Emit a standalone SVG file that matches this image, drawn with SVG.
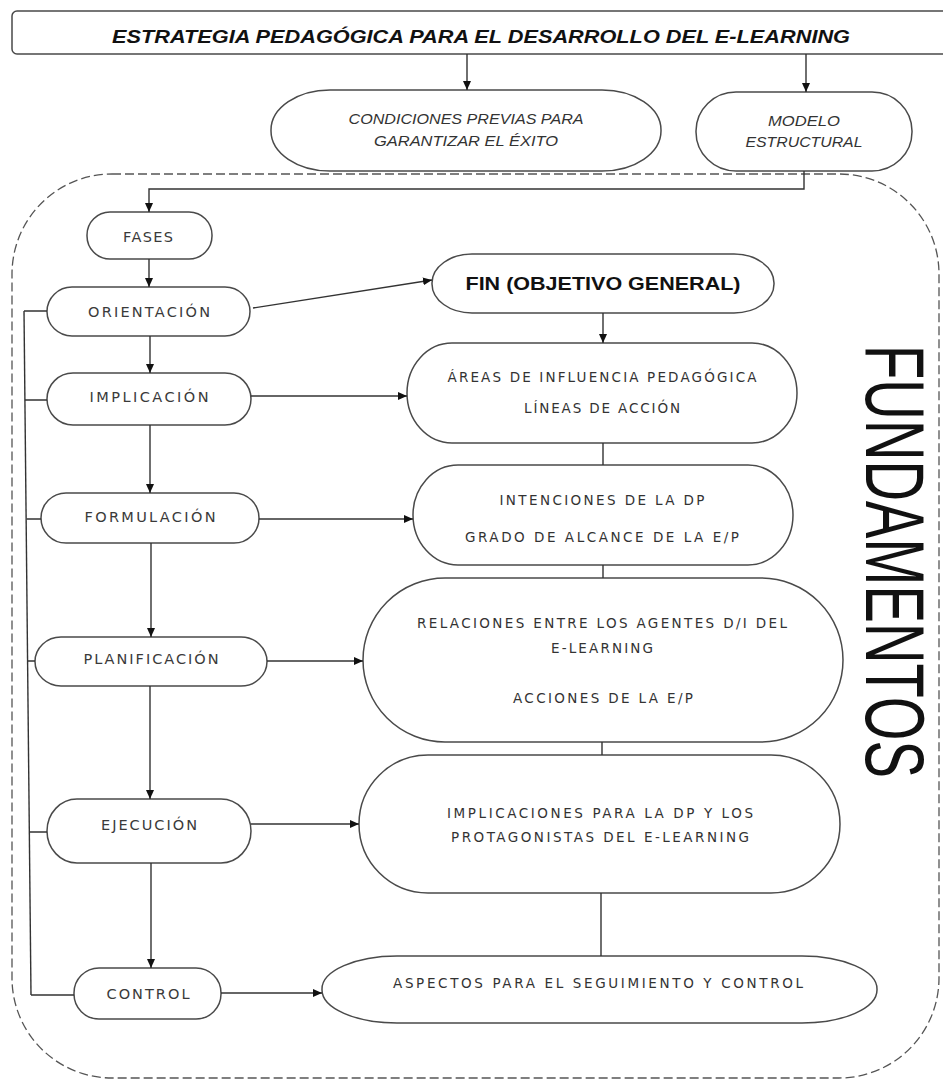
<svg xmlns="http://www.w3.org/2000/svg" width="943" height="1080" viewBox="0 0 943 1080">
<defs>
<marker id="ah" markerUnits="userSpaceOnUse" markerWidth="10" markerHeight="10" refX="9" refY="4" orient="auto">
<path d="M0,0 L9,4 L0,8 z" fill="#111"/>
</marker>
<style>
.box{fill:#fff;stroke:#4a4a4a;stroke-width:1.5}
.ln{fill:none;stroke:#333;stroke-width:1.4}
.arr{fill:none;stroke:#333;stroke-width:1.4;marker-end:url(#ah)}
.lbl{font-family:"DejaVu Sans","Liberation Sans",sans-serif;font-size:14.5px;fill:#3a3a3a;text-anchor:middle}
.rt{font-family:"DejaVu Sans","Liberation Sans",sans-serif;font-size:13.5px;fill:#333;text-anchor:middle}
.it{font-family:"Liberation Sans",Arial,sans-serif;font-style:italic;font-size:15px;fill:#333;text-anchor:middle}
</style>
</defs>
<rect width="943" height="1080" fill="#fff"/>

<path d="M112,174 H839 A100,100 0 0 1 939,274 V978 A100,100 0 0 1 839,1078 H112 A100,100 0 0 1 12,978 V274 A100,100 0 0 1 112,174 Z" fill="none" stroke="#555" stroke-width="1.3" stroke-dasharray="9 4"/>

<g id="title">
<rect class="box" x="12" y="11" width="945" height="43" rx="5"/>
<text x="481" y="43" font-family="'Liberation Sans',Arial,sans-serif" font-weight="bold" font-style="italic" font-size="18" fill="#111" text-anchor="middle" textLength="738" lengthAdjust="spacingAndGlyphs">ESTRATEGIA PEDAGÓGICA PARA EL DESARROLLO DEL E-LEARNING</text>
</g>

<g id="condiciones">
<rect class="box" x="271" y="90" width="390" height="81" rx="59" ry="40"/>
<text class="it" x="466" y="124" textLength="235" lengthAdjust="spacingAndGlyphs">CONDICIONES PREVIAS PARA</text>
<text class="it" x="466" y="146" textLength="184" lengthAdjust="spacingAndGlyphs">GARANTIZAR EL ÉXITO</text>
</g>

<g id="modelo">
<rect class="box" x="696" y="92" width="216" height="79" rx="40" ry="39"/>
<text class="it" x="804" y="126" textLength="72" lengthAdjust="spacingAndGlyphs">MODELO</text>
<text class="it" x="804" y="147" textLength="117" lengthAdjust="spacingAndGlyphs">ESTRUCTURAL</text>
</g>

<g id="fases">
<rect class="box" x="87" y="212" width="125" height="47" rx="23"/>
<text class="lbl" x="148" y="242" textLength="50" lengthAdjust="spacing">FASES</text>
</g>

<g id="orientacion">
<rect class="box" x="47" y="287" width="203" height="49" rx="25"/>
<text class="lbl" x="149" y="317" textLength="122" lengthAdjust="spacing">ORIENTACIÓN</text>
</g>

<g id="implicacion">
<rect class="box" x="47" y="373" width="204" height="52" rx="26"/>
<text class="lbl" x="149" y="402" textLength="119" lengthAdjust="spacing">IMPLICACIÓN</text>
</g>

<g id="formulacion">
<rect class="box" x="41" y="493" width="218" height="50" rx="25"/>
<text class="lbl" x="150" y="522" textLength="131" lengthAdjust="spacing">FORMULACIÓN</text>
</g>

<g id="planificacion">
<rect class="box" x="35" y="637" width="232" height="49" rx="26"/>
<text class="lbl" x="151" y="664" textLength="135" lengthAdjust="spacing">PLANIFICACIÓN</text>
</g>

<g id="ejecucion">
<rect class="box" x="47" y="799" width="204" height="64" rx="30" ry="32"/>
<text class="lbl" x="149" y="830" textLength="96" lengthAdjust="spacing">EJECUCIÓN</text>
</g>

<g id="control">
<rect class="box" x="74" y="968" width="147" height="51" rx="25"/>
<text class="lbl" x="148" y="999" textLength="83" lengthAdjust="spacing">CONTROL</text>
</g>

<g id="fin">
<rect class="box" x="432" y="254" width="342" height="59" rx="40" ry="29"/>
<text x="603" y="290" font-family="'Liberation Sans',Arial,sans-serif" font-weight="bold" font-size="18" fill="#111" text-anchor="middle" textLength="275" lengthAdjust="spacingAndGlyphs">FIN (OBJETIVO GENERAL)</text>
</g>

<g id="areas">
<rect class="box" x="407" y="343" width="390" height="100" rx="45" ry="50"/>
<text class="rt" x="602" y="382" textLength="309" lengthAdjust="spacing">ÁREAS DE INFLUENCIA PEDAGÓGICA</text>
<text class="rt" x="602" y="413" textLength="156" lengthAdjust="spacing">LÍNEAS DE ACCIÓN</text>
</g>

<g id="intenciones">
<rect class="box" x="413" y="465" width="380" height="100" rx="45" ry="50"/>
<text class="rt" x="602" y="505" textLength="205" lengthAdjust="spacing">INTENCIONES DE LA DP</text>
<text class="rt" x="602" y="542" textLength="274" lengthAdjust="spacing">GRADO DE ALCANCE  DE LA E/P</text>
</g>

<g id="relaciones">
<rect class="box" x="363" y="578" width="480" height="164" rx="82"/>
<text class="rt" x="602" y="628" textLength="370" lengthAdjust="spacing">RELACIONES  ENTRE  LOS AGENTES  D/I DEL</text>
<text class="rt" x="602" y="653" textLength="102" lengthAdjust="spacing">E-LEARNING</text>
<text class="rt" x="603" y="703" textLength="180" lengthAdjust="spacing">ACCIONES DE LA E/P</text>
</g>

<g id="implicaciones">
<rect class="box" x="359" y="755" width="481" height="138" rx="69"/>
<text class="rt" x="600" y="818" textLength="306" lengthAdjust="spacing">IMPLICACIONES PARA LA DP Y LOS</text>
<text class="rt" x="600" y="842" textLength="298" lengthAdjust="spacing">PROTAGONISTAS  DEL E-LEARNING</text>
</g>

<g id="aspectos">
<rect class="box" x="322" y="956" width="555" height="67" rx="75" ry="33"/>
<text class="rt" x="598" y="988" textLength="410" lengthAdjust="spacing">ASPECTOS  PARA EL  SEGUIMIENTO  Y CONTROL</text>
</g>

<g id="fundamentos">
<text transform="translate(866,345) rotate(90)" x="0" y="0" font-family="'Liberation Sans',Arial,sans-serif" font-size="84" fill="#111" textLength="433" lengthAdjust="spacingAndGlyphs">FUNDAMENTOS</text>
</g>

<g id="connectors">
<line class="arr" x1="467" y1="54" x2="467" y2="90"/>
<line class="arr" x1="806" y1="54" x2="806" y2="92"/>
<polyline class="arr" points="804,171 804,189 149,189 149,212"/>
<line class="arr" x1="149" y1="259" x2="149" y2="287"/>
<line class="arr" x1="253" y1="308" x2="432" y2="280"/>
<line class="arr" x1="603" y1="313" x2="603" y2="343"/>
<line class="arr" x1="150" y1="336" x2="150" y2="373"/>
<line class="arr" x1="251" y1="396" x2="407" y2="396"/>
<line class="ln" x1="603" y1="443" x2="603" y2="465"/>
<line class="arr" x1="150" y1="425" x2="150" y2="493"/>
<line class="arr" x1="259" y1="519" x2="413" y2="519"/>
<line class="ln" x1="603" y1="565" x2="603" y2="578"/>
<line class="arr" x1="151" y1="543" x2="151" y2="637"/>
<line class="arr" x1="267" y1="661" x2="363" y2="661"/>
<line class="ln" x1="602" y1="742" x2="602" y2="755"/>
<line class="arr" x1="150" y1="686" x2="150" y2="799"/>
<line class="arr" x1="251" y1="824" x2="359" y2="824"/>
<line class="ln" x1="601" y1="893" x2="601" y2="956"/>
<line class="arr" x1="151" y1="863" x2="151" y2="968"/>
<line class="arr" x1="221" y1="993" x2="322" y2="993"/>
<path class="ln" d="M24,311 L31,995"/>
<path class="ln" d="M24,311 H47 M25,400 H47 M26.5,519 H41 M28,661 H35 M29.5,832 H47 M31,995 H74"/>
</g>
</svg>
